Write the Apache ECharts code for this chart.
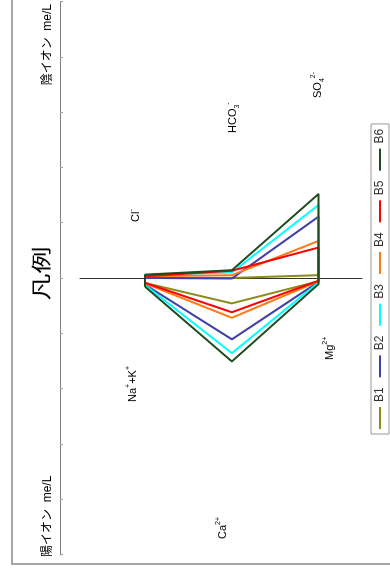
<!DOCTYPE html>
<html>
<head>
<meta charset="utf-8">
<script src="https://cdn.jsdelivr.net/npm/echarts@6/dist/echarts.min.js"></script>
<style>
  html, body { margin: 0; padding: 0; background: #fff; overflow: hidden; }
  /* The Stiff diagram is laid out landscape and turned a quarter turn counter-clockwise */
  #stage {
    position: absolute; left: 0; top: 0;
    width: 575px; height: 390px;
    transform-origin: 0 0;
    transform: translateY(575px) rotate(-90deg);
  }
</style>
</head>
<body>
<div id="stage"></div>
<script>
// Samples
const samples = ['B1', 'B2', 'B3', 'B4', 'B5', 'B6'];

// Cations (me/L)
const naK = [0.08, 0.11, 0.12, 0.09, 0.08, 0.15];
const ca  = [0.45, 1.10, 1.35, 0.71, 0.61, 1.50];
const mg  = [0.05, 0.06, 0.07, 0.05, 0.04, 0.10];

// Anions (me/L)
const cl   = [0.01, 0.01, 0.06, 0.04, 0.04, 0.07];
const hco3 = [0.01, 0.00, 0.11, 0.06, 0.14, 0.15];
const so4  = [0.06, 1.12, 1.33, 0.68, 0.56, 1.53];

// Row index of each ion pair: Na+K / Cl, Ca / HCO3, Mg / SO4
const rows = [1, 2, 3];

// Ion names (rich-text markup for super/subscripts)
const cationNames = ['{b|Na}{sp|+}{b|+K}{sp|+}', '{b|Ca}{sp|2+}', '{b|Mg}{sp|2+}'];
const anionNames  = ['{b|Cl}{sp|-}', '{b|HCO}{sb|3}{sp|-}', '{b|SO}{sb|4}{sp|2-}'];

// Value axis range and tick step (me/L)
const axisMin = -5, axisMax = 5, axisStep = 1;

const titleText = '凡例';
const cationAxisName = '陽イオン  me/L';
const anionAxisName = '陰イオン  me/L';

// ---- styling ----
const palette = ['#8c8c1a', '#4040a8', '#00ffff', '#ff7a14', '#ff0000', '#1e4a1e'];
const latin = "'Liberation Sans', Arial, 'Noto Sans CJK JP', sans-serif";
const richStyles = {
  b:  { fontSize: 11, fontFamily: latin, color: '#000', lineHeight: 16, verticalAlign: 'middle' },
  sp: { fontSize: 7,  fontFamily: latin, color: '#000', verticalAlign: 'top' },
  sb: { fontSize: 7,  fontFamily: latin, color: '#000', verticalAlign: 'bottom' }
};
// anchor of each ion name: left edge and baseline, in chart pixels
const cationLabelPos = [[173, 137], [36, 227], [215, 334]];
const anionLabelPos  = [[353, 140], [442, 237], [477, 322]];

function ionLabel(markup, pos) {
  return {
    type: 'text', x: pos[0], y: pos[1] - 12, silent: true,
    style: { text: markup, rich: richStyles, textAlign: 'left', textVerticalAlign: 'top' }
  };
}

const series = samples.map((name, i) => ({
  name: name,
  type: 'line',
  symbol: 'none',
  silent: true,
  animation: false,
  lineStyle: { width: 2, color: palette[i] },
  itemStyle: { color: palette[i] },
  data: [
    [-naK[i], rows[0]], [-ca[i], rows[1]], [-mg[i], rows[2]],
    [so4[i], rows[2]], [hco3[i], rows[1]], [cl[i], rows[0]],
    [-naK[i], rows[0]]
  ]
}));

const graphics = [
  // frame
  { type: 'rect', silent: true, shape: { x: 11, y: 12, width: 620, height: 420 },
    style: { fill: 'none', stroke: '#a6a6a6', lineWidth: 2 } },
  // title
  { type: 'text', x: 301.5, y: 41, scaleX: 1.35, silent: true,
    style: { text: titleText, fontSize: 20, fontFamily: "'Noto Sans CJK JP', sans-serif",
             fill: '#000', textAlign: 'center', textVerticalAlign: 'middle' } },
  // axis captions
  { type: 'text', x: 18, y: 47.5, silent: true,
    style: { text: cationAxisName, fontSize: 12, fontFamily: latin, fill: '#000',
             textAlign: 'left', textVerticalAlign: 'middle' } },
  { type: 'text', x: 571, y: 47.5, silent: true,
    style: { text: anionAxisName, fontSize: 12, fontFamily: latin, fill: '#000',
             textAlign: 'right', textVerticalAlign: 'middle' } }
];
cationNames.forEach((t, i) => graphics.push(ionLabel(t, cationLabelPos[i])));
anionNames.forEach((t, i) => graphics.push(ionLabel(t, anionLabelPos[i])));

const chart = echarts.init(document.getElementById('stage'), null, { renderer: 'canvas', width: 575, height: 390 });
chart.setOption({
  animation: false,
  backgroundColor: '#fff',
  grid: { left: 20, right: 2, top: 80, bottom: 28 },
  xAxis: {
    type: 'value', position: 'top', offset: 20,
    min: axisMin, max: axisMax, interval: axisStep,
    axisLine: { show: true, onZero: false, lineStyle: { color: '#808080', width: 1 } },
    axisTick: { show: true, inside: true, length: 3, lineStyle: { color: '#a0a0a0' } },
    axisLabel: { show: false },
    splitLine: { show: false }
  },
  yAxis: {
    type: 'value', inverse: true, min: 0.25, max: 3.5,
    axisLine: { show: true, onZero: true, lineStyle: { color: '#333', width: 1 } },
    axisTick: { show: false },
    axisLabel: { show: false },
    splitLine: { show: false }
  },
  legend: {
    data: samples.map(n => ({ name: n, icon: 'rect' })),
    orient: 'horizontal',
    left: 141, top: 371,
    padding: [2, 5],
    itemWidth: 22, itemHeight: 2, itemGap: 10,
    borderColor: '#999', borderWidth: 1,
    textStyle: { fontSize: 12, fontFamily: latin, color: '#333', lineHeight: 14 },
    selectedMode: false
  },
  series: series,
  graphic: graphics
});
</script>
</body>
</html>
